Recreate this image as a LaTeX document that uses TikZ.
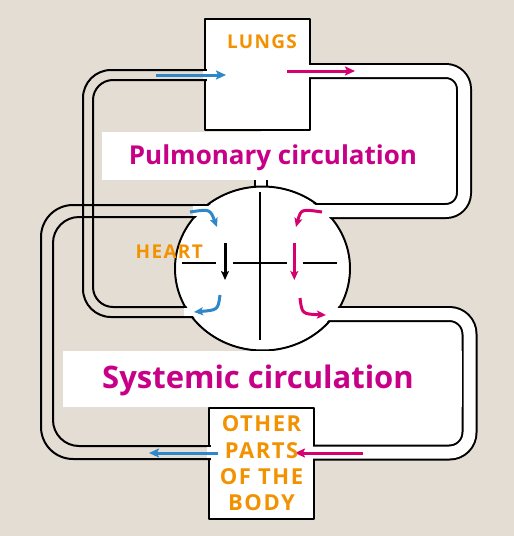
\documentclass[tikz,border=0pt]{standalone}
\usepackage{fontspec}
\setmainfont{Open Sans}
\newfontfamily\capsfont{Open Sans}[LetterSpace=7]
\usetikzlibrary{arrows.meta}
\definecolor{ColBack}{RGB}{228,221,211}
\definecolor{ColOrange}{RGB}{243,146,0}
\definecolor{ColTitle}{RGB}{200,0,135}
\definecolor{ColRed}{RGB}{214,0,110}
\definecolor{ColBlue}{RGB}{45,135,200}

\begin{document}
\begin{tikzpicture}[
  x=1pt, y=-1pt,
  line join=round,
  wall/.style={line width=2pt},
  vessel/.style={draw=black, line width=2pt, double=white, double distance=12pt},
  flow/.style={line width=3pt, -{Stealth[length=10pt,width=9pt,inset=2pt]}},
  pump/.style={line width=3pt, -{Stealth[length=9pt,width=8pt,inset=2pt]}},
  caps/.style={text=ColOrange, inner sep=0pt, font=\capsfont\bfseries\fontsize{#1}{#1}\selectfont},
  title/.style={text=ColTitle, inner sep=0pt, font=\bfseries\fontsize{#1}{#1}\selectfont}
]
  \useasboundingbox (0,0) rectangle (514,536);
  \fill[ColBack] (0,0) rectangle (514,536);

  % white insides of the oxygenated loops
  \fill[white, rounded corners=18pt] (261,71) -- (464,71) -- (464,211) -- (261,211) -- cycle;
  \fill[white, rounded corners=20pt] (262,314) -- (469.5,314) -- (469.5,452.5) -- (262,452.5) -- cycle;

  % short vessel above the heart
  \draw[vessel, double distance=10pt] (261,192) -- (261,165);

  % organs
  \draw[wall, fill=white] (205,18.5) rectangle (310,130);
  \draw[wall, fill=white] (209,408) rectangle (314,519);
  \draw[wall, fill=white] (262.5,268.5) ellipse [x radius=87.5pt, y radius=82pt];

  % vessels on the blue side: two lines, ground shows through
  \draw[wall, rounded corners=28pt] (215,70) -- (83,70) -- (83,317) -- (230,317);
  \draw[wall, rounded corners=20pt] (215,80) -- (93,80) -- (93,307) -- (230,307);
  \draw[wall, rounded corners=32pt] (230,205) -- (41,205) -- (41,459) -- (220,459);
  \draw[wall, rounded corners=26pt] (230,217) -- (53,217) -- (53,446) -- (220,446);

  % vessels on the red side
  \draw[vessel, rounded corners=18pt] (290,71) -- (464,71) -- (464,211) -- (290,211);
  \draw[vessel, rounded corners=20pt] (300,314) -- (469.5,314) -- (469.5,452.5) -- (290,452.5);

  % openings of the blue vessels
  \draw[white, line width=8pt] (230,312) -- (184,312);
  \draw[white, line width=10pt] (230,211) -- (193,211);
  \draw[white, line width=8pt] (215,75) -- (203,75);
  \draw[white, line width=11pt] (220,452.5) -- (207,452.5);

  % clear the organs again
  \fill[white] (206.5,20) rectangle (308.5,128.5);
  \fill[white] (210.5,409.5) rectangle (312.5,517.5);
  \fill[white] (262.5,268.5) ellipse [x radius=86pt, y radius=80.5pt];

  % label panels
  \fill[white] (102,131.5) rectangle (456,180);
  \fill[white] (63,351) rectangle (461.5,406.5);

  % chambers
  \draw[wall] (260,192) -- (260,340);
  \draw[wall] (182,263.3) -- (216,263.3) (233.3,263.3) -- (286.7,263.3) (303.3,263.3) -- (336.7,263.3);

  % flow coordinates
  \coordinate (paA) at (156,75);   \coordinate (paB) at (226,75);
  \coordinate (pvA) at (287,71);   \coordinate (pvB) at (355,71);
  \coordinate (vcA) at (218,453);  \coordinate (vcB) at (149,453);
  \coordinate (aoA) at (363,453);  \coordinate (aoB) at (295,453);
  \coordinate (raA) at (190,212);  \coordinate (raB) at (217,227);
  \coordinate (rvA) at (220,295);  \coordinate (rvB) at (194,312);
  \coordinate (laA) at (322,212);  \coordinate (laB) at (296,227);
  \coordinate (lvA) at (300,298);  \coordinate (lvB) at (326,315);
  \coordinate (rmA) at (225,243);  \coordinate (rmB) at (225,280);
  \coordinate (lmA) at (294.3,243); \coordinate (lmB) at (294.3,280);

  % blood flow
  \draw[flow, ColBlue] (paA) -- (paB);
  \draw[flow, ColRed]  (pvA) -- (pvB);
  \draw[flow, ColBlue] (vcA) -- (vcB);
  \draw[flow, ColRed]  (aoA) -- (aoB);
  \draw[pump, black]   (rmA) -- (rmB);
  \draw[pump, ColRed]  (lmA) -- (lmB);
  \draw[pump, ColBlue] (raA) .. controls (210,209) .. (raB);
  \draw[pump, ColBlue] (rvA) .. controls (218,310) .. (rvB);
  \draw[pump, ColRed]  (laA) .. controls (301,209) .. (laB);
  \draw[pump, ColRed]  (lvA) .. controls (302,314) .. (lvB);

  % texts
  \node[caps=19, anchor=base] (lungs) at (262,48) {LUNGS};
  \node[caps=19, anchor=base] (heart) at (169.3,258.3) {HEART};
  \node[title=26, anchor=base] (pulm) at (273,164) {Pulmonary circulation};
  \node[title=31, anchor=base] (syst) at (258,388) {Systemic circulation};
  \node[text=ColOrange, inner sep=0pt, align=center,
        font=\capsfont\bfseries\fontsize{22}{26.3}\selectfont] (body) at (261.5,463.4)
        {OTHER\\PARTS\\OF THE\\BODY};
\end{tikzpicture}
\end{document}
